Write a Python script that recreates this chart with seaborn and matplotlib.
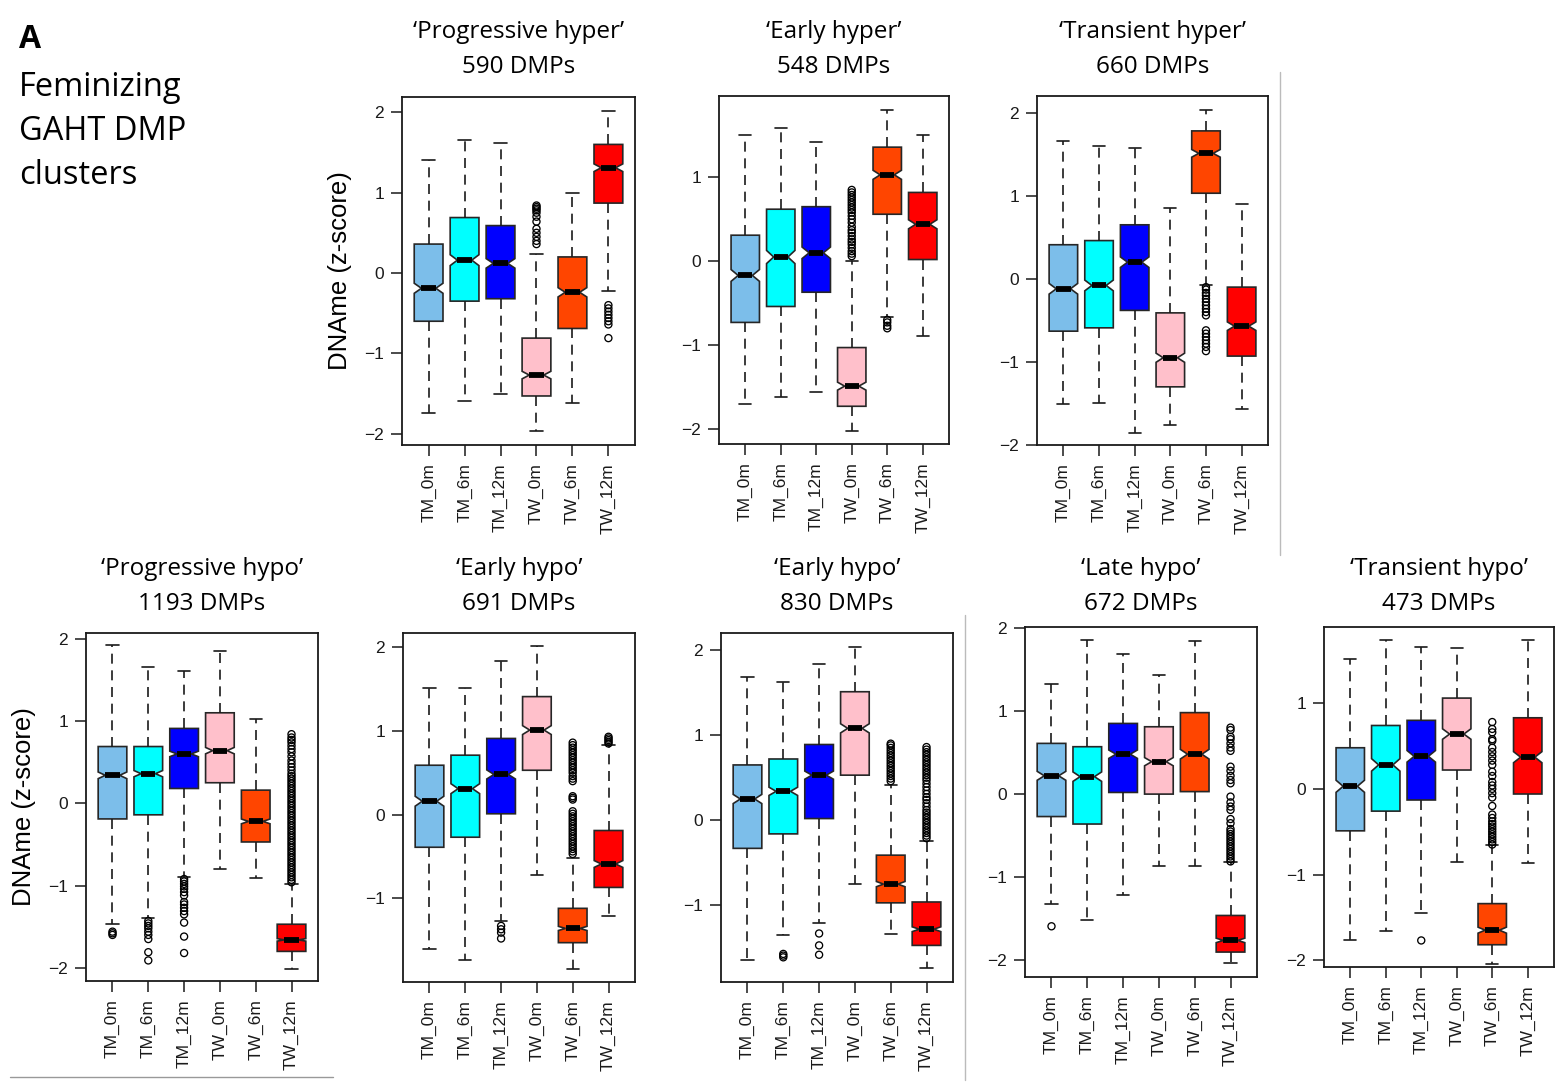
import numpy as np
import pandas as pd
import matplotlib
matplotlib.use("Agg")
import matplotlib.pyplot as plt
from matplotlib.lines import Line2D
import seaborn as sns

###################### DATA ###########################
groups = ["TM_0m", "TM_6m", "TM_12m", "TW_0m", "TW_6m", "TW_12m"]
titles = ["\u2018Progressive hyper\u2019", "\u2018Early hyper\u2019", "\u2018Transient hyper\u2019",
          "\u2018Progressive hypo\u2019", "\u2018Early hypo\u2019", "\u2018Early hypo\u2019",
          "\u2018Late hypo\u2019", "\u2018Transient hypo\u2019"]
n_dmps = [590, 548, 660, 1193, 691, 830, 672, 473]

# one row per group: [lower whisker, Q1, median, Q3, upper whisker]
prog_hyper = [[-1.74, -0.60, -0.19, 0.36, 1.40],
              [-1.59, -0.35, 0.16, 0.69, 1.66],
              [-1.50, -0.32, 0.12, 0.59, 1.62],
              [-1.97, -1.53, -1.27, -0.81, 0.24],
              [-1.62, -0.69, -0.24, 0.20, 1.00],
              [-0.23, 0.87, 1.31, 1.60, 2.02]]
early_hyper = [[-1.70, -0.73, -0.17, 0.31, 1.50],
               [-1.62, -0.54, 0.05, 0.62, 1.59],
               [-1.56, -0.37, 0.10, 0.65, 1.42],
               [-2.03, -1.73, -1.49, -1.03, 0.00],
               [-0.66, 0.56, 1.03, 1.36, 1.80],
               [-0.89, 0.02, 0.44, 0.82, 1.51]]
trans_hyper = [[-1.51, -0.63, -0.12, 0.41, 1.66],
               [-1.49, -0.59, -0.08, 0.46, 1.60],
               [-1.85, -0.38, 0.20, 0.65, 1.58],
               [-1.76, -1.30, -0.95, -0.41, 0.85],
               [-0.07, 1.03, 1.51, 1.78, 2.03],
               [-1.57, -0.93, -0.57, -0.10, 0.90]]
prog_hypo = [[-1.47, -0.19, 0.34, 0.69, 1.92],
             [-1.39, -0.14, 0.36, 0.69, 1.66],
             [-0.89, 0.18, 0.60, 0.91, 1.61],
             [-0.80, 0.25, 0.64, 1.10, 1.85],
             [-0.91, -0.47, -0.22, 0.16, 1.03],
             [-2.01, -1.80, -1.66, -1.47, -0.98]]
early_hypo_a = [[-1.60, -0.39, 0.16, 0.59, 1.51],
                [-1.74, -0.27, 0.31, 0.71, 1.51],
                [-1.27, 0.01, 0.48, 0.91, 1.83],
                [-0.72, 0.53, 1.01, 1.41, 2.01],
                [-1.84, -1.53, -1.36, -1.12, -0.52],
                [-1.21, -0.87, -0.59, -0.19, 0.83]]
early_hypo_b = [[-1.64, -0.33, 0.25, 0.65, 1.68],
                [-1.35, -0.16, 0.34, 0.72, 1.62],
                [-1.21, 0.02, 0.53, 0.89, 1.84],
                [-0.75, 0.53, 1.08, 1.51, 2.04],
                [-1.34, -0.97, -0.75, -0.41, 0.41],
                [-1.74, -1.47, -1.28, -0.96, -0.24]]
late_hypo = [[-1.32, -0.27, 0.22, 0.61, 1.33],
             [-1.52, -0.36, 0.21, 0.57, 1.85],
             [-1.21, 0.02, 0.48, 0.85, 1.69],
             [-0.87, 0.00, 0.39, 0.81, 1.43],
             [-0.87, 0.03, 0.48, 0.98, 1.84],
             [-2.03, -1.90, -1.76, -1.46, -0.82]]
trans_hypo = [[-1.76, -0.49, 0.03, 0.48, 1.52],
              [-1.66, -0.26, 0.28, 0.74, 1.74],
              [-1.45, -0.13, 0.38, 0.80, 1.66],
              [-0.85, 0.22, 0.64, 1.06, 1.64],
              [-2.04, -1.82, -1.65, -1.34, -0.66],
              [-0.87, -0.06, 0.37, 0.83, 1.74]]

# outliers
prog_hyper_out = {"TW_0m": [0.36, 0.40, 0.45, 0.50, 0.55, 0.64, 0.70, 0.75, 0.78, 0.80, 0.82, 0.84],
                  "TW_12m": [-0.40, -0.44, -0.48, -0.52, -0.56, -0.60, -0.64, -0.81]}
early_hyper_out = {"TW_0m": [0.06, 0.09, 0.12, 0.16, 0.20, 0.23, 0.26, 0.30, 0.34, 0.37, 0.41, 0.46,
                             0.50, 0.54, 0.58, 0.61, 0.64, 0.67, 0.70, 0.73, 0.76, 0.79, 0.82, 0.85],
                   "TW_6m": [-0.70, -0.73, -0.77, -0.80]}
trans_hyper_out = {"TW_6m": [-0.10, -0.13, -0.17, -0.20, -0.24, -0.28, -0.32, -0.36, -0.40, -0.44,
                             -0.62, -0.66, -0.70, -0.74, -0.78, -0.82, -0.87]}
prog_hypo_out = {"TM_0m": [-1.56, -1.58, -1.60],
                 "TM_6m": [-1.43, -1.46, -1.49, -1.52, -1.56, -1.60, -1.65, -1.81, -1.91],
                 "TM_12m": [-0.92, -0.95, -0.98, -1.01, -1.04, -1.08, -1.12, -1.20, -1.23, -1.27,
                            -1.31, -1.35, -1.45, -1.62, -1.82],
                 "TW_12m": [-0.96, -0.93, -0.90, -0.87, -0.84, -0.81, -0.78, -0.75, -0.72, -0.69,
                            -0.66, -0.63, -0.60, -0.57, -0.54, -0.51, -0.48, -0.45, -0.42, -0.39,
                            -0.36, -0.33, -0.30, -0.27, -0.24, -0.21, -0.18, -0.15, -0.12, -0.09,
                            -0.06, -0.03, 0.00, 0.03, 0.06, 0.09, 0.12, 0.15, 0.18, 0.21, 0.24,
                            0.27, 0.30, 0.33, 0.36, 0.40, 0.44, 0.48, 0.52, 0.57, 0.62, 0.66,
                            0.70, 0.74, 0.77, 0.80, 0.84]}
early_hypo_a_out = {"TM_12m": [-1.33, -1.37, -1.41, -1.48],
                    "TW_6m": [-0.47, -0.44, -0.41, -0.38, -0.35, -0.32, -0.29, -0.26, -0.23, -0.20,
                              -0.17, -0.14, -0.11, -0.08, -0.05, -0.02, 0.01, 0.04, 0.18, 0.20,
                              0.22, 0.40, 0.43, 0.46, 0.50, 0.53, 0.56, 0.59, 0.62, 0.65, 0.68,
                              0.71, 0.74, 0.77, 0.80, 0.83, 0.86],
                    "TW_12m": [0.85, 0.87, 0.89, 0.91, 0.93]}
early_hypo_b_out = {"TM_6m": [-1.57, -1.59, -1.61],
                    "TM_12m": [-1.33, -1.47, -1.58],
                    "TW_6m": [0.46, 0.49, 0.52, 0.55, 0.58, 0.61, 0.64, 0.67, 0.70, 0.73, 0.76,
                              0.79, 0.82, 0.85, 0.88, 0.90],
                    "TW_12m": [-0.21, -0.18, -0.15, -0.12, -0.09, -0.06, -0.03, 0.00, 0.03, 0.06,
                               0.09, 0.12, 0.16, 0.20, 0.24, 0.27, 0.31, 0.35, 0.39, 0.43, 0.47,
                               0.50, 0.53, 0.56, 0.59, 0.62, 0.65, 0.68, 0.71, 0.74, 0.77, 0.80,
                               0.83, 0.86]}
late_hypo_out = {"TM_0m": [-1.59],
                 "TW_12m": [-0.81, -0.78, -0.75, -0.72, -0.69, -0.66, -0.63, -0.60, -0.57, -0.54,
                            -0.51, -0.48, -0.45, -0.42, -0.35, -0.30, -0.19, -0.15, -0.10, -0.03,
                            0.13, 0.17, 0.22, 0.28, 0.33, 0.52, 0.56, 0.61, 0.66, 0.69, 0.77, 0.80]}
trans_hypo_out = {"TM_12m": [-1.77],
                  "TW_6m": [-0.65, -0.62, -0.59, -0.56, -0.53, -0.50, -0.47, -0.44, -0.41, -0.38,
                            -0.34, -0.30, -0.20, -0.10, -0.05, 0.00, 0.04, 0.08, 0.15, 0.20, 0.28,
                            0.33, 0.38, 0.43, 0.48, 0.56, 0.58, 0.66, 0.70, 0.78]}

box_data = [prog_hyper, early_hyper, trans_hyper, prog_hypo,
            early_hypo_a, early_hypo_b, late_hypo, trans_hypo]
out_data = [prog_hyper_out, early_hyper_out, trans_hyper_out, prog_hypo_out,
            early_hypo_a_out, early_hypo_b_out, late_hypo_out, trans_hypo_out]

palette = ["#7CBEEA", "#00FFFF", "#0000FF", "#FFC0CB", "#FF4500", "#FF0000"]

################### LAYOUT ####################
W, H = 1565, 1089
# frame (left, top, right, bottom) in pixels
frames = [(402, 97, 635, 445), (719, 96, 949, 444), (1037, 96, 1268, 445),
          (86, 633, 318, 981), (403, 633, 635, 982), (721, 633, 953, 982),
          (1025, 627, 1257, 977), (1324, 627, 1554, 967)]
ylims = [(-2.14, 2.19), (-2.18, 1.97), (-2.0, 2.2), (-2.16, 2.07),
         (-2.0, 2.17), (-1.90, 2.20), (-2.20, 2.01), (-2.08, 1.89)]
yticks = [[-2, -1, 0, 1, 2], [-2, -1, 0, 1], [-2, -1, 0, 1, 2], [-2, -1, 0, 1, 2],
          [-1, 0, 1, 2], [-1, 0, 1, 2], [-2, -1, 0, 1, 2], [-2, -1, 0, 1]]

sns.set_style("ticks")
plt.rcParams["font.family"] = ["Liberation Sans", "DejaVu Sans"]
plt.rcParams["text.color"] = "black"

fig = plt.figure(figsize=(W / 100, H / 100), dpi=100)
positions = np.arange(1, 7)

for i in range(8):
    l, t, r, b = frames[i]
    ax = fig.add_axes([l / W, 1 - b / H, (r - l) / W, (b - t) / H])
    n = n_dmps[i]
    stats = []
    for g, (lo, q1, med, q3, hi) in zip(groups, box_data[i]):
        ci = 1.58 * (q3 - q1) / np.sqrt(n)
        stats.append(dict(label=g, whislo=lo, q1=q1, med=med, q3=q3, whishi=hi,
                          cilo=med - ci, cihi=med + ci, fliers=[]))
    bp = ax.bxp(stats, positions=positions, widths=0.8, shownotches=True,
                patch_artist=True, showfliers=False, capwidths=0.34,
                boxprops=dict(edgecolor="#262626", linewidth=1.2),
                whiskerprops=dict(color="#1a1a1a", linewidth=1.2, linestyle=(0, (6, 4))),
                capprops=dict(color="#1a1a1a", linewidth=1.2),
                medianprops=dict(color="black", linewidth=4.2, solid_capstyle="butt"))
    for patch, c in zip(bp["boxes"], palette):
        patch.set_facecolor(c)

    rows = [(g, v) for g in groups for v in out_data[i].get(g, [])]
    df = pd.DataFrame(rows, columns=["group", "value"])
    df["pos"] = df["group"].map({g: k + 1 for k, g in enumerate(groups)})
    sns.scatterplot(data=df, x="pos", y="value", ax=ax, marker="o", s=26,
                    facecolor="none", edgecolor="black", linewidth=0.95,
                    legend=False, zorder=3)

    ax.set_xlim(0.26, 6.74)
    ax.set_ylim(*ylims[i])
    ax.set_xticks(positions)
    ax.set_xticklabels(groups, rotation=90)
    ax.set_yticks(yticks[i])
    ax.set_yticklabels([str(v).replace("-", "\u2212") for v in yticks[i]])
    ax.set_xlabel("")
    ax.set_ylabel("")
    ax.tick_params(axis="both", direction="out", length=8, width=1.1, pad=5,
                   labelsize=12.5, color="#1a1a1a", labelcolor="#1a1a1a")
    for sp in ax.spines.values():
        sp.set_visible(True)
        sp.set_color("#1a1a1a")
        sp.set_linewidth(1.3)

    cx = (l + r) / 2 / W
    y1 = 32 if i < 3 else 569
    fig.text(cx, 1 - y1 / H, titles[i], ha="center", va="center",
             fontsize=17.5, family="Open Sans")
    fig.text(cx, 1 - (y1 + 35) / H, "%d DMPs" % n, ha="center", va="center",
             fontsize=17.5, family="Open Sans")

# y labels
fig.text(340 / W, 1 - 271 / H, "DNAme (z-score)", rotation=90, ha="center",
         va="center", fontsize=18.5)
fig.text(24 / W, 1 - 807 / H, "DNAme (z-score)", rotation=90, ha="center",
         va="center", fontsize=18.5)

# panel label
fig.text(19 / W, 1 - 40 / H, "A", ha="left", va="center", fontsize=23,
         fontweight="bold", family="Open Sans")
for k, line in enumerate(["Feminizing", "GAHT DMP", "clusters"]):
    fig.text(19 / W, 1 - (87 + 44.5 * k) / H, line, ha="left", va="center",
             fontsize=23.5, family="Open Sans")

# faint panel borders from the assembled figure
fig.add_artist(Line2D([1280 / W, 1280 / W], [1 - 72 / H, 1 - 555 / H], color="#bbbbbb", lw=1))
fig.add_artist(Line2D([965 / W, 965 / W], [1 - 615 / H, 1 - 1080 / H], color="#bbbbbb", lw=1))
fig.add_artist(Line2D([10 / W, 333 / W], [1 - 1077 / H, 1 - 1077 / H], color="#999999", lw=1))

fig.savefig("out.png", dpi=100, facecolor="white")
